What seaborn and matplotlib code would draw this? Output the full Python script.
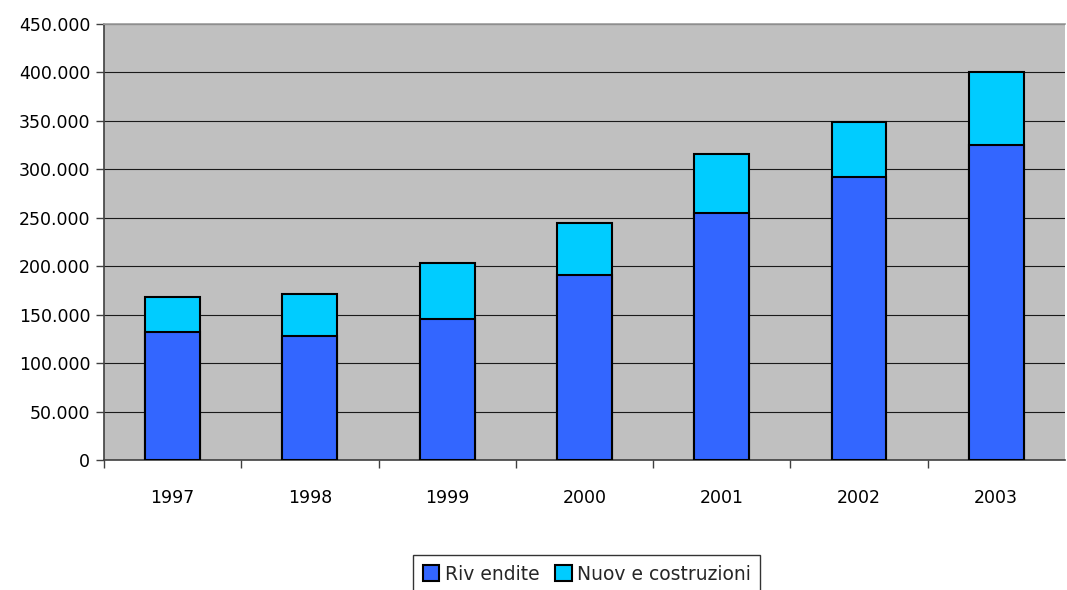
import matplotlib
matplotlib.use("Agg")
import matplotlib.pyplot as plt
import seaborn as sns
import pandas as pd
from matplotlib.patches import Patch
from matplotlib.ticker import FuncFormatter, MultipleLocator

years = ["1997", "1998", "1999", "2000", "2001", "2002", "2003"]
rivendite = [132000, 128000, 146000, 191000, 254500, 292000, 325500]
nuove_costruzioni = [36000, 43500, 57000, 53500, 61000, 57000, 75000]
series_names = ["Riv endite", "Nuov e costruzioni"]
ytick_max = 450000
ytick_step = 50000

df = pd.DataFrame({"anno": years, "riv": rivendite, "nuove": nuove_costruzioni})
df["totale"] = df["riv"] + df["nuove"]

sns.set_theme(style="white")
plt.rcParams["font.family"] = ["DejaVu Sans"]

c_riv = "#3366FF"
c_nuove = "#00CCFF"

fig = plt.figure(figsize=(10.67, 5.90), dpi=100)
ax = fig.add_axes([0.0975, 0.2203, 0.9005, 0.739])
ax.set_facecolor("#C0C0C0")

sns.barplot(data=df, x="anno", y="totale", color=c_nuove, width=0.4,
            edgecolor="black", linewidth=1.5, saturation=1, ax=ax, zorder=3)
sns.barplot(data=df, x="anno", y="riv", color=c_riv, width=0.4,
            edgecolor="black", linewidth=1.5, saturation=1, ax=ax, zorder=4)

ax.set_xlim(-0.5, len(years) - 0.5)
ax.set_ylim(0, ytick_max)
ax.yaxis.set_major_locator(MultipleLocator(ytick_step))
ax.yaxis.set_major_formatter(FuncFormatter(lambda v, p: f"{int(v):,}".replace(",", ".")))
ax.grid(axis="y", color="#1a1a1a", linewidth=0.8, zorder=1)
ax.set_axisbelow(True)
ax.set_xlabel("")
ax.set_ylabel("")

ax.set_xticks(range(len(years)))
ax.set_xticklabels(years)
ax.set_xticks([i - 0.5 for i in range(len(years))], minor=True)
ax.tick_params(axis="x", which="major", length=0, pad=21, labelsize=12.5, colors="black")
ax.tick_params(axis="x", which="minor", length=6, width=1, color="#404040", direction="out", bottom=True)
ax.tick_params(axis="y", which="major", length=6, width=1, color="#404040", direction="out",
               left=True, labelsize=12.5, labelcolor="black", pad=4)

for s in ["left", "bottom"]:
    ax.spines[s].set_visible(True)
    ax.spines[s].set_color("#404040")
    ax.spines[s].set_linewidth(1.2)
ax.spines["top"].set_color("#A0A0A0")
ax.spines["right"].set_visible(False)

handles = [Patch(facecolor=c_riv, edgecolor="black", linewidth=1.5),
           Patch(facecolor=c_nuove, edgecolor="black", linewidth=1.5)]
leg = fig.legend(handles, series_names, loc="lower center", bbox_to_anchor=(0.55, -0.005),
                 ncol=2, frameon=True, fancybox=False, fontsize=13.5,
                 handlelength=0.9, handleheight=0.9, handletextpad=0.3,
                 columnspacing=0.8, borderpad=0.5, borderaxespad=0.0)
leg.get_frame().set_edgecolor("black")
leg.get_frame().set_linewidth(1.0)

fig.savefig("out.png", dpi=100)
